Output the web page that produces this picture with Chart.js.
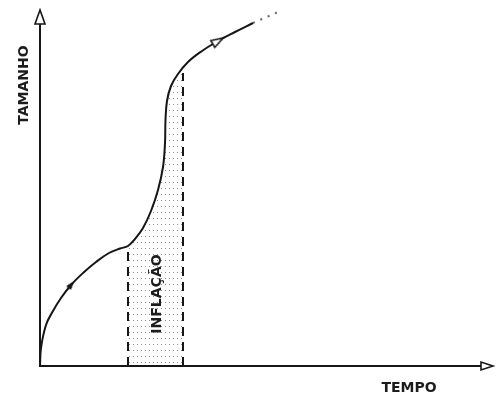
<!DOCTYPE html>
<html><head><meta charset="utf-8">
<script src="https://cdn.jsdelivr.net/npm/chart.js@4/dist/chart.umd.min.js"></script>
<style>html,body{margin:0;padding:0;background:#fff}canvas{display:block}</style>
</head><body>
<canvas id="c" width="502" height="396"></canvas>
<script>
// Growth curve (TEMPO vs TAMANHO), in axis units
const curveX = [0, 1, 6, 13, 21, 31, 43, 56, 69, 80, 88, 95, 103, 111, 118, 123, 125, 125.5, 127, 131, 138, 148, 162, 178, 195, 213];
const curveY = [0, 18, 41, 55, 68, 81, 93, 104, 113, 117.5, 120, 127, 138, 155, 176, 199, 223, 246, 265, 280, 292, 304, 315, 325, 334, 343];
// dotted continuation of the curve
const tailX = [213, 238];
const tailY = [343, 354];
// inflation band limits (x) and the curve height at each limit
const inflationX = [88, 143];
const inflationTop = [120, 293];
// direction markers on the curve
const dotMarkerX = [31], dotMarkerY = [81];
const arrowMarkerX = [178], arrowMarkerY = [325];
// axis extent
const axisMaxX = 453, axisMaxY = 356;
// texts
const xTitle = 'TEMPO';
const yTitle = 'TAMANHO';
const bandLabel = 'INFLAÇÃO';

const pts = (xs, ys) => xs.map((x, i) => ({x, y: ys[i]}));
const INK = '#161616';
const FONT = "bold 14px 'DejaVu Sans', Verdana, sans-serif";

// dotted pattern for the inflation band
function makePattern() {
  const p = document.createElement('canvas');
  p.width = 4; p.height = 6;
  const g = p.getContext('2d');
  g.fillStyle = '#8a8a8a';
  g.fillRect(1, 2, 1, 1);
  return p;
}

// arrowhead point style (pointing right, rotated by the dataset)
function makeArrowHead(len, half, fill, lw) {
  const c = document.createElement('canvas');
  const s = Math.ceil(len + 6);
  c.width = s; c.height = s;
  const g = c.getContext('2d');
  const cx = s / 2, cy = s / 2;
  g.beginPath();
  g.moveTo(cx + len / 2, cy);
  g.lineTo(cx - len / 2, cy - half);
  g.lineTo(cx - len / 2, cy + half);
  g.closePath();
  g.fillStyle = fill;
  g.fill();
  g.lineWidth = lw;
  g.strokeStyle = INK;
  g.lineJoin = 'miter';
  g.stroke();
  return c;
}

const bandPlugin = {
  id: 'band',
  beforeDatasetsDraw(chart) {
    const ctx = chart.ctx, xs = chart.scales.x, ys = chart.scales.y;
    const meta = chart.getDatasetMeta(2);
    const line = meta.dataset;
    line.updateControlPoints(chart.chartArea, 'x');
    const x0 = xs.getPixelForValue(inflationX[0]), x1 = xs.getPixelForValue(inflationX[1]);
    const yb = ys.getPixelForValue(0);
    ctx.save();
    ctx.beginPath();
    ctx.rect(x0, 0, x1 - x0, yb);
    ctx.clip();
    ctx.beginPath();
    line.path(ctx);
    const last = meta.data[meta.data.length - 1];
    ctx.lineTo(last.x, yb);
    ctx.lineTo(meta.data[0].x, yb);
    ctx.closePath();
    ctx.fillStyle = ctx.createPattern(makePattern(), 'repeat');
    ctx.fill();
    ctx.restore();
  },
  afterDatasetsDraw(chart) {
    const ctx = chart.ctx, xs = chart.scales.x, ys = chart.scales.y;
    const ox = xs.getPixelForValue(0), oy = ys.getPixelForValue(0);
    const tx = xs.getPixelForValue(axisMaxX), ty = ys.getPixelForValue(axisMaxY);
    ctx.save();
    ctx.strokeStyle = INK;
    ctx.lineWidth = 2;
    ctx.beginPath();
    ctx.moveTo(ox, oy + 1); ctx.lineTo(ox, ty + 12);
    ctx.moveTo(ox - 1, oy); ctx.lineTo(tx - 10, oy);
    ctx.stroke();
    // arrow heads (hollow)
    ctx.lineWidth = 1.6;
    ctx.fillStyle = '#fff';
    ctx.beginPath();
    ctx.moveTo(ox, ty); ctx.lineTo(ox - 5, ty + 14); ctx.lineTo(ox + 5, ty + 14); ctx.closePath();
    ctx.fill(); ctx.stroke();
    ctx.beginPath();
    ctx.moveTo(tx, oy); ctx.lineTo(tx - 12, oy - 4); ctx.lineTo(tx - 12, oy + 4); ctx.closePath();
    ctx.fill(); ctx.stroke();
    // titles
    ctx.fillStyle = '#1c1c1c';
    ctx.font = FONT;
    ctx.textAlign = 'center';
    ctx.textBaseline = 'middle';
    ctx.fillText(xTitle, tx - 84, oy + 22);
    ctx.save();
    ctx.translate(ox - 16, ty + 75);
    ctx.rotate(-Math.PI / 2);
    ctx.fillText(yTitle, 0, 0);
    ctx.restore();
    ctx.save();
    ctx.translate((xs.getPixelForValue(inflationX[0]) + xs.getPixelForValue(inflationX[1])) / 2 + 1.5, ys.getPixelForValue(72));
    ctx.rotate(-Math.PI / 2);
    ctx.fillText(bandLabel, 0, 0);
    ctx.restore();
    ctx.restore();
  }
};

const baseLine = {showLine: true, pointRadius: 0, clip: false, fill: false};

new Chart(document.getElementById('c'), {
  type: 'scatter',
  data: {
    datasets: [
      {data: pts(arrowMarkerX, arrowMarkerY), pointStyle: makeArrowHead(12, 4, '#fff', 1.6), pointRotation: -30,
       pointRadius: 6, clip: false},
      {data: pts(dotMarkerX, dotMarkerY), pointStyle: makeArrowHead(7, 2.5, INK, 1), pointRotation: -50,
       pointRadius: 4, clip: false},
      Object.assign({data: pts(curveX, curveY), borderColor: INK, borderWidth: 2, tension: 0.4}, baseLine),
      Object.assign({data: pts(tailX, tailY), borderColor: '#666', borderWidth: 2, borderDash: [2, 6]}, baseLine),
      Object.assign({data: [{x: inflationX[0], y: 0}, {x: inflationX[0], y: inflationTop[0]}], borderColor: INK, borderWidth: 2, borderDash: [9, 6]}, baseLine),
      Object.assign({data: [{x: inflationX[1], y: 0}, {x: inflationX[1], y: inflationTop[1]}], borderColor: INK, borderWidth: 2, borderDash: [9, 6]}, baseLine)
    ]
  },
  options: {
    responsive: false,
    devicePixelRatio: 1,
    animation: false,
    layout: {padding: {left: 40, right: 9, top: 10, bottom: 30}},
    scales: {
      x: {type: 'linear', min: 0, max: axisMaxX, display: false},
      y: {type: 'linear', min: 0, max: axisMaxY, display: false}
    },
    plugins: {legend: {display: false}, tooltip: {enabled: false}}
  },
  plugins: [bandPlugin]
});
</script>
</body></html>
